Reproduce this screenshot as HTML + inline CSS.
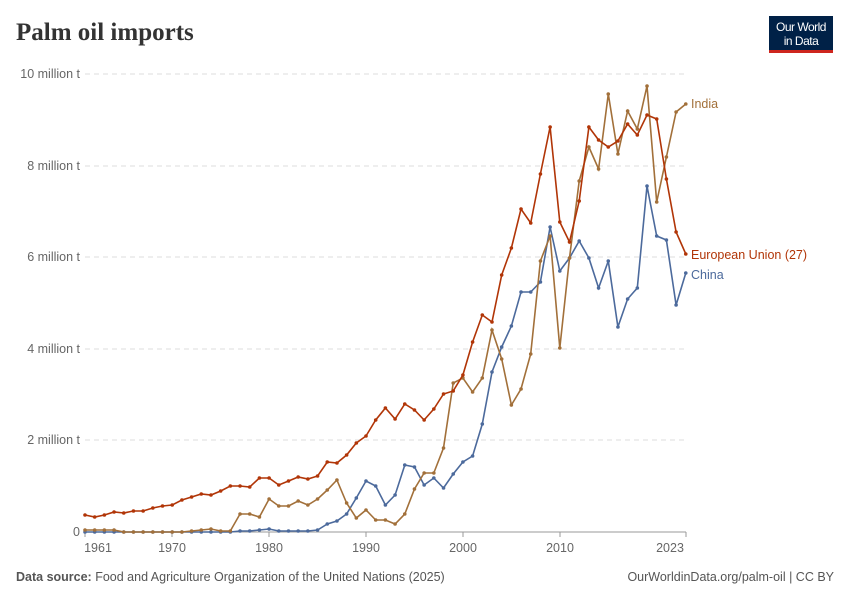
<!DOCTYPE html>
<html><head><meta charset="utf-8"><style>
body{margin:0;background:#fff;width:850px;height:600px;overflow:hidden;font-family:"Liberation Sans",sans-serif}
</style></head><body>
<svg id="s" width="850" height="600" xmlns="http://www.w3.org/2000/svg" font-family="Liberation Sans, sans-serif">
<text x="16" y="40" font-family="Liberation Serif, serif" font-size="25" font-weight="bold" fill="#333">Palm oil imports</text>
<rect x="769" y="16" width="64" height="34" fill="#002147"/>
<rect x="769" y="50" width="64" height="3" fill="#ce261e"/>
<text x="801" y="31" font-size="12" fill="#fff" text-anchor="middle" letter-spacing="-0.5">Our World</text>
<text x="801" y="45" font-size="12" fill="#fff" text-anchor="middle" letter-spacing="-0.5">in Data</text>
<g stroke="#ddd" stroke-dasharray="5,4" stroke-width="1">
<line x1="85" x2="686" y1="74" y2="74"/><line x1="85" x2="686" y1="166" y2="166"/><line x1="85" x2="686" y1="257" y2="257"/><line x1="85" x2="686" y1="349" y2="349"/><line x1="85" x2="686" y1="440" y2="440"/>
</g>
<line x1="85" x2="686" y1="532" y2="532" stroke="#999"/>
<g font-size="12.5" fill="#666" text-anchor="end">
<text x="80" y="78">10 million t</text><text x="80" y="170">8 million t</text><text x="80" y="261">6 million t</text><text x="80" y="353">4 million t</text><text x="80" y="444">2 million t</text><text x="80" y="536">0</text>
</g>
<g font-size="12.5" fill="#666" text-anchor="middle">
<text x="98" y="552">1961</text><text x="172" y="552">1970</text><text x="269" y="552">1980</text><text x="366" y="552">1990</text><text x="463" y="552">2000</text><text x="560" y="552">2010</text><text x="670" y="552">2023</text>
</g>
<g stroke="#999"><line x1="85" x2="85" y1="532" y2="537"/><line x1="172" x2="172" y1="532" y2="537"/><line x1="269" x2="269" y1="532" y2="537"/><line x1="366" x2="366" y1="532" y2="537"/><line x1="463" x2="463" y1="532" y2="537"/><line x1="560" x2="560" y1="532" y2="537"/><line x1="686" x2="686" y1="532" y2="537"/></g>
<g id="lines"></g>
<text x="691" y="108" font-size="12.5" fill="#a2703a">India</text>
<text x="691" y="259" font-size="12.5" fill="#b13507">European Union (27)</text>
<text x="691" y="279" font-size="12.5" fill="#4c6a9c">China</text>
<text x="16" y="581" font-size="12.5" fill="#555"><tspan font-weight="bold">Data source:</tspan> Food and Agriculture Organization of the United Nations (2025)</text>
<text x="834" y="581" font-size="12.5" fill="#555" text-anchor="end">OurWorldinData.org/palm-oil | CC BY</text>
</svg>
<script>
var ch=[532,532,532,532,532,532,532,532,532,532,532,532,532,532,532,532,531,531,530,529,531,531,531,531,530,524,521,514,498,481,486,505,495,465,467,485,478,488,474,462,456,424,372,347,326,292,292,282,227,271,258,241,258,288,261,327,299,288,186,236,240,305,273];
var ind=[530,530,530,530,532,532,532,532,532,532,532,531,530,529,531,531,514,514,517,499,506,506,501,505,499,490,480,503,518,510,520,520,524,514,489,473,473,448,383,378,392,378,330,359,405,389,354,261,236,348,258,181,147,169,94,154,111,129,86,202,157,112,104];
var eu=[515,517,515,512,513,511,511,508,506,505,500,497,494,495,491,486,486,487,478,478,485,481,477,479,476,462,463,455,443,436,420,408,419,404,410,420,409,394,391,375,342,315,322,275,248,209,223,174,127,222,242,201,127,140,147,141,124,135,115,119,179,232,254];
var g=document.getElementById('lines'),ns='http://www.w3.org/2000/svg';
function draw(d,c){var p=[];for(var i=0;i<d.length;i++){var x=85+i*9.69;p.push(x.toFixed(1)+','+d[i]);}
var l=document.createElementNS(ns,'polyline');l.setAttribute('points',p.join(' '));l.setAttribute('fill','none');l.setAttribute('stroke',c);l.setAttribute('stroke-width','1.6');g.appendChild(l);
for(var i=0;i<d.length;i++){var e=document.createElementNS(ns,'circle');e.setAttribute('cx',85+i*9.69);e.setAttribute('cy',d[i]);e.setAttribute('r','1.8');e.setAttribute('fill',c);g.appendChild(e);}}
draw(ch,'#4c6a9c');draw(ind,'#a2703a');draw(eu,'#b13507');
</script>
</body></html>
